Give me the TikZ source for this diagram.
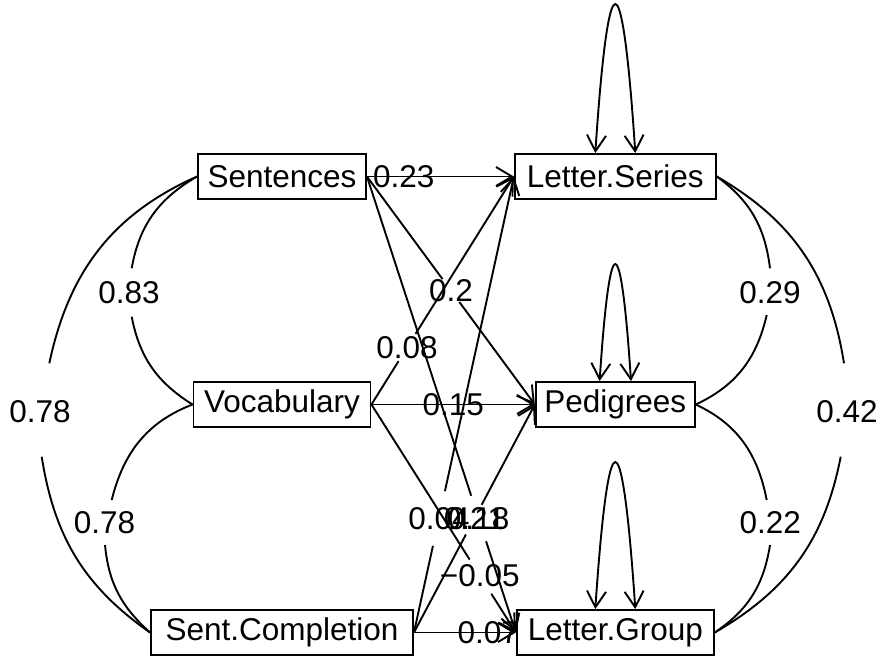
\documentclass[tikz,border=0pt]{standalone}
\usepackage{fontspec}
\setmainfont{Liberation Sans}
\usetikzlibrary{arrows.meta}
\newcommand\fsz{\fontsize{31.5}{37}\selectfont}
\begin{document}
\begin{tikzpicture}[x=1pt,y=1pt,
  line width=1.9pt,
  >={Straight Barb[length=16pt,width=19pt]},
  box/.style={draw, minimum height=45pt, inner sep=0pt, font=\fsz},
  lab/.style={inner sep=0pt, font=\fsz}]
\useasboundingbox (0,0) rectangle (891,-659);
% nodes
\node[box, minimum width=168pt] (S)  at (282,-176.5) {Sentences};
\node[box, minimum width=177pt] (V)  at (282,-404.5) {Vocabulary};
\node[box, minimum width=262pt] (SC) at (282,-632.5) {Sent.Completion};
\node[box, minimum width=201pt] (LS) at (615.3,-176.5) {Letter.Series};
\node[box, minimum width=159pt] (P)  at (615.3,-404.5) {Pedigrees};
\node[box, minimum width=197pt] (LG) at (615.3,-632.5) {Letter.Group};
% straight paths (horizontal, label over line)
\draw[->] (S.east) -- (LS.west) node[lab,pos=0.25] (l1) {0.23};
\draw[->] (V.east) -- (P.west) node[lab,pos=0.5] (l5) {0.15};
\draw[->] (SC.east) -- (LG.west) node[lab,pos=0.73] (l9) {0.07};
% diagonal paths with gaps
\path (S.east) -- (P.west) coordinate[pos=0.45] (g2a) coordinate[pos=0.55] (g2b) node[lab,pos=0.5] (l2) {0.2};
\draw (S.east) -- (g2a); \draw[->] (g2b) -- (P.west);
\path (S.east) -- (LG.west) coordinate[pos=0.70] (g3a) coordinate[pos=0.80] (g3b) node[lab,pos=0.75] (l3) {0.18};
\draw (S.east) -- (g3a); \draw[->] (g3b) -- (LG.west);
\path (V.east) -- (LS.west) coordinate[pos=0.19] (g4a) coordinate[pos=0.31] (g4b) node[lab,pos=0.25] (l4) {0.08};
\draw (V.east) -- (g4a); \draw[->] (g4b) -- (LS.west);
\path (V.east) -- (LG.west) coordinate[pos=0.68] (g6a) coordinate[pos=0.83] (g6b) node[lab,pos=0.75] (l6) {−0.05};
\draw (V.east) -- (g6a); \draw[->] (g6b) -- (LG.west);
\path (SC.east) -- (LS.west) coordinate[pos=0.19] (g7a) coordinate[pos=0.31] (g7b) node[lab,pos=0.25] (l7) {0.04};
\draw (SC.east) -- (g7a); \draw[->] (g7b) -- (LS.west);
\path (SC.east) -- (P.west) coordinate[pos=0.43] (g8a) coordinate[pos=0.56] (g8b) node[lab,pos=0.5] (l8) {0.21};
\draw (SC.east) -- (g8a); \draw[->] (g8b) -- (P.west);
% self loops
\draw[<->] ([xshift=-20pt]LS.north) parabola bend ([yshift=149pt]LS.north) ([xshift=20pt]LS.north);
\draw[<->] ([xshift=-15.7pt]P.north) parabola bend ([yshift=117pt]P.north) ([xshift=15.7pt]P.north);
\draw[<->] ([xshift=-20pt]LG.north) parabola bend ([yshift=147pt]LG.north) ([xshift=20pt]LG.north);
% left correlation curves
\coordinate (c1a) at (131.7,-268.3); \coordinate (c1b) at (131.7,-316.7);
\node[lab] (k1) at (129,-292.5) {0.83};
\draw (S.west) to[out=210,in=80] (c1a);
\draw (c1b) to[out=281,in=148] (V.west);
\coordinate (c2a) at (49.3,-363.3); \coordinate (c2b) at (41.7,-456.7);
\node[lab] (k2) at (40,-411.7) {0.78};
\draw (S.west) to[out=204,in=78] (c2a);
\draw (c2b) to[out=279,in=145] (SC.west);
\coordinate (c3a) at (111.7,-500); \coordinate (c3b) at (105,-545);
\node[lab] (k3) at (104.5,-523) {0.78};
\draw (V.west) to[out=201,in=76] (c3a);
\draw (c3b) to[out=275.5,in=138] (SC.west);
% right correlation curves
\coordinate (c4a) at (770,-268.3); \coordinate (c4b) at (766.7,-315);
\node[lab] (k4) at (770,-293) {0.29};
\draw (LS.east) to[out=-36,in=97] (c4a);
\draw (c4b) to[out=257,in=25] (P.east);
\coordinate (c5a) at (766.7,-500); \coordinate (c5b) at (770,-545);
\node[lab] (k5) at (770.3,-523) {0.22};
\draw (P.east) to[out=-25,in=101] (c5a);
\draw (c5b) to[out=261,in=34] (LG.east);
\coordinate (c6a) at (844,-363.3); \coordinate (c6b) at (840.7,-456.7);
\node[lab] (k6) at (847,-411.7) {0.42};
\draw (LS.east) to[out=-30,in=99] (c6a);
\draw (c6b) to[out=259,in=30] (LG.east);
\end{tikzpicture}
\end{document}
